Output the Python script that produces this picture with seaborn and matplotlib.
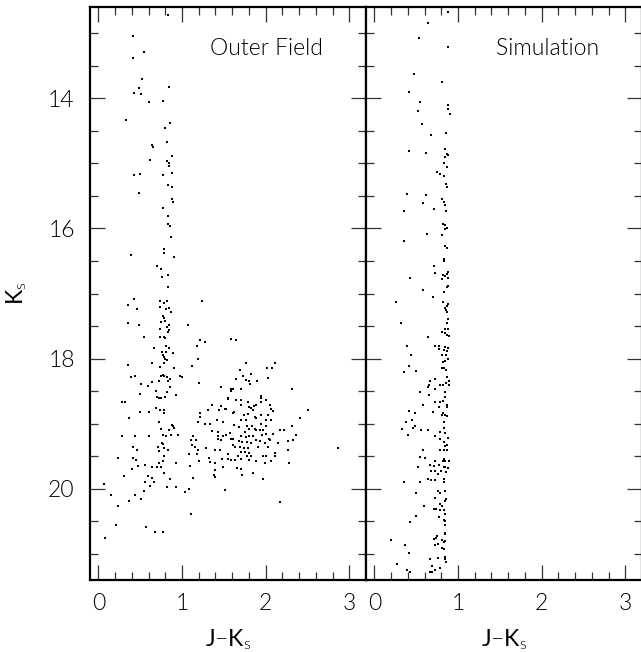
#!/usr/bin/env python3

"""Colour-magnitude diagrams: outer field vs simulation."""

import seaborn as sns
import pandas as pd
import matplotlib.pyplot as plt
from matplotlib.ticker import MultipleLocator

# DATA
field_jk = [0.83, 0.41, 0.54, 0.41, 0.52, 0.49, 0.85, 0.43, 0.51, 0.60, 0.77, 0.33, 0.86, 0.80,
            0.82, 0.64, 0.65, 0.62, 0.88, 0.82, 0.85, 0.84, 0.43, 0.50, 0.77, 0.88, 0.83, 0.88,
            0.49, 0.88, 0.89, 0.77, 0.83, 0.83, 0.86, 0.87, 0.78, 0.79, 0.39, 0.90, 0.70, 0.75,
            0.76, 0.83, 0.83, 0.43,
            0.74, 0.78, 0.82, 0.36, 1.24, 0.74, 0.81, 0.84, 0.46, 0.87, 0.77, 0.78, 0.75, 0.80,
            0.36, 0.49, 0.85, 1.07, 0.82, 0.74, 0.85, 0.83, 0.54, 0.74, 0.79, 0.80, 1.22, 1.28,
            0.81, 0.84, 1.18, 0.66, 0.76, 0.81, 0.89, 0.77, 0.78, 0.80, 0.82, 1.19, 0.64, 0.78,
            0.36, 0.74, 0.90, 1.12, 0.44, 0.39, 0.75, 0.77, 0.78, 0.82, 0.98, 1.00, 0.86, 0.83,
            0.72, 0.64, 1.20, 0.51, 0.59, 0.86, 1.47, 0.69, 0.82, 0.93, 0.50, 0.70, 0.72, 0.75,
            0.80, 1.55, 0.28, 0.32, 1.36, 1.47, 1.53, 0.69, 0.74, 0.78, 1.31, 0.50, 0.60, 0.78,
            1.21, 0.37, 1.22, 1.42, 0.72, 1.19, 1.28, 1.33, 1.49, 0.88, 0.89, 0.91, 0.75, 0.85,
            1.36, 0.28, 0.44, 0.60, 0.77, 0.81, 0.87, 0.95, 1.13, 1.43, 1.49, 1.53,
            0.76, 0.77, 0.71, 0.78, 0.83, 0.41, 0.46, 0.72, 1.11, 1.17, 1.12, 1.16, 1.19, 1.29,
            1.40, 1.45, 0.79, 1.08, 1.18, 0.23, 0.42, 1.32, 1.48, 1.55, 1.55, 0.45, 0.77, 1.20,
            1.33, 1.40, 0.73, 0.56, 0.47, 0.93, 0.64, 0.70, 0.75, 1.10, 1.40, 1.49, 0.40, 0.78,
            0.31, 0.59, 0.64, 0.86, 1.13, 1.38, 1.40, 0.56, 0.66, 0.07, 0.62, 0.82, 0.93, 1.08,
            1.03, 1.51, 0.54, 0.44, 0.15, 0.51, 0.37, 0.23, 1.11, 0.21, 0.57, 0.68, 0.77, 0.08,
            2.17, 2.86, 2.51, 2.41, 2.36, 2.33, 2.28, 2.27, 2.27, 2.31, 2.32, 2.15, 2.22, 2.17,
            2.11, 2.11, 2.07, 1.97,
            1.58, 1.65, 1.76, 2.11, 2.08, 2.02, 1.69, 1.73, 1.82, 2.03, 1.64, 1.76, 1.90, 1.80,
            1.81, 1.47, 1.58, 1.61, 1.59, 1.70, 1.95, 1.95, 2.00, 1.55, 1.65, 1.70, 1.95, 1.79,
            2.05, 1.70, 1.88, 1.86, 1.80, 1.83, 1.85, 2.07, 2.09, 1.52, 1.44, 1.62, 1.61, 1.79,
            1.95, 2.03, 1.74, 1.87, 1.88, 1.70, 1.77, 2.00, 2.06, 1.62, 1.78, 1.84, 1.95, 2.00,
            1.87, 1.89, 1.93, 1.97, 1.80, 1.68, 1.43, 1.75, 1.57, 2.01, 2.09, 1.71, 1.76, 1.80,
            1.85, 1.96, 1.43, 1.47, 1.58, 1.61, 1.89, 1.93, 2.04, 2.05, 1.68, 1.72, 1.78, 1.82,
            1.99, 1.61, 1.63, 1.69, 1.74, 1.79, 1.91, 2.03, 1.55, 1.70, 1.75, 1.80, 1.67, 1.78,
            1.82, 1.97, 2.01, 1.58, 1.63, 1.71, 1.80, 1.88, 1.99, 1.66, 1.70, 1.85, 1.72]
field_k = [12.73, 13.05, 13.29, 13.39, 13.70, 13.84, 13.83, 13.92, 13.94, 14.06, 14.04, 14.33,
           14.38, 14.46, 14.67, 14.72, 14.75, 14.95, 14.89, 14.97, 15.00, 15.04, 15.18, 15.17,
           15.18, 15.15, 15.33, 15.37, 15.46, 15.55, 15.60, 15.68, 15.81, 15.93, 15.97, 16.13,
           16.31, 16.38, 16.41, 16.44, 16.57, 16.63, 16.74, 16.72, 16.90, 17.08,
           17.11, 17.15, 17.12, 17.17, 17.12, 17.20, 17.24, 17.23, 17.24, 17.28, 17.35, 17.37,
           17.44, 17.43, 17.46, 17.48, 17.49, 17.49, 17.52, 17.54, 17.56, 17.59, 17.67, 17.67,
           17.67, 17.69, 17.71, 17.75, 17.81, 17.83, 17.80, 17.84, 17.90, 17.90, 17.92, 17.95,
           17.97, 18.00, 18.02, 18.00, 18.06, 18.07, 18.10, 18.13, 18.15, 18.12, 18.26, 18.28,
           18.27, 18.25, 18.26, 18.29, 18.26, 18.28, 18.32, 18.35, 18.35, 18.36, 18.37, 18.39,
           18.42, 18.44, 18.43, 18.49, 18.52, 18.56, 18.54, 18.59, 18.60, 18.61, 18.59, 18.61,
           18.66, 18.66, 18.71, 18.73, 18.77, 18.76, 18.79, 18.79, 18.79, 18.82, 18.82, 18.84,
           18.83, 18.91, 18.89, 18.95, 18.98, 18.98, 19.00, 19.00, 18.98, 19.02, 19.03, 19.06,
           19.08, 19.10, 19.11, 19.19, 19.19, 19.19, 19.18, 19.19, 19.17, 19.17, 19.19, 19.19,
           19.19, 19.17,
           19.29, 19.31, 19.36, 19.38, 19.41, 19.36, 19.41, 19.42, 19.25, 19.25, 19.32, 19.35,
           19.40, 19.38, 19.41, 19.40, 19.49, 19.47, 19.47, 19.52, 19.52, 19.52, 19.54, 19.54,
           19.47, 19.56, 19.57, 19.58, 19.59, 19.61, 19.60, 19.63, 19.65, 19.61, 19.67, 19.67,
           19.67, 19.65, 19.71, 19.67, 19.69, 19.76, 19.81, 19.81, 19.83, 19.85, 19.83, 19.79,
           19.82, 19.89, 19.90, 19.93, 19.96, 19.97, 19.97, 20.00, 20.05, 20.02, 20.04, 20.10,
           20.10, 20.15, 20.19, 20.26, 20.39, 20.55, 20.59, 20.66, 20.67, 20.76,
           20.20, 19.37, 18.79, 18.91, 19.17, 19.25, 19.60, 19.40, 19.27, 19.03, 18.46, 19.29,
           19.09, 19.09, 19.45, 19.49, 19.57, 19.85,
           17.70, 17.71, 18.07, 18.07, 18.14, 18.15, 18.17, 18.26, 18.24, 18.30, 18.31, 18.33,
           18.34, 18.35, 18.39, 18.43, 18.46, 18.46, 18.49, 18.46, 18.57, 18.60, 18.63, 18.62,
           18.64, 18.64, 18.66, 18.67, 18.72, 18.72, 18.71, 18.73, 18.74, 18.76, 18.79, 18.78,
           18.81, 18.78, 18.79, 18.82, 18.84, 18.85, 18.86, 18.87, 18.86, 18.89, 18.91, 18.94,
           18.94, 18.94, 18.94, 19.02, 19.03, 19.04, 19.00, 19.04, 19.08, 19.09, 19.09, 19.09,
           19.08, 19.05, 19.12, 19.12, 19.14, 19.16, 19.16, 19.19, 19.20, 19.19, 19.19, 19.18,
           19.24, 19.25, 19.24, 19.24, 19.25, 19.26, 19.23, 19.25, 19.27, 19.28, 19.28, 19.30,
           19.30, 19.33, 19.35, 19.36, 19.38, 19.37, 19.36, 19.35, 19.46, 19.43, 19.43, 19.45,
           19.49, 19.50, 19.49, 19.50, 19.50, 19.55, 19.55, 19.54, 19.56, 19.58, 19.61, 19.68,
           19.70, 19.76, 19.78]

sim_jk = [0.88, 0.64, 0.53, 0.88, 0.47, 0.81, 0.41, 0.54, 0.88, 0.88, 0.52, 0.90, 0.57, 0.68,
          0.86, 0.41, 0.62, 0.85, 0.87, 0.88, 0.85, 0.83, 0.87, 0.75, 0.78, 0.83, 0.86, 0.87,
          0.39, 0.62, 0.81, 0.83, 0.58, 0.84, 0.71, 0.86, 0.35, 0.82, 0.85, 0.87, 0.85, 0.63,
          0.81, 0.35, 0.84, 0.87, 0.83, 0.83, 0.71, 0.88, 0.87, 0.85, 0.72, 0.82, 0.88, 0.43,
          0.81, 0.88, 0.87, 0.58, 0.83, 0.70,
          0.26, 0.82, 0.88, 0.87, 0.85, 0.86, 0.87, 0.88, 0.87, 0.32, 0.84, 0.88, 0.81, 0.85,
          0.87, 0.89, 0.64, 0.73, 0.77, 0.85, 0.88, 0.39, 0.77, 0.83, 0.87, 0.44, 0.81, 0.86,
          0.88, 0.85, 0.82, 0.41, 0.81, 0.83, 0.86, 0.50, 0.36, 0.87, 0.73, 0.89, 0.67, 0.86,
          0.89, 0.82, 0.65, 0.64, 0.78, 0.72, 0.85, 0.55, 0.65, 0.85, 0.82, 0.72, 0.78, 0.58,
          0.87, 0.87, 0.77, 0.41, 0.49, 0.70, 0.82, 0.84, 0.87, 0.81, 0.45, 0.38, 0.83, 0.33,
          0.46, 0.49, 0.56, 0.64, 0.83, 0.78, 0.85, 0.40, 0.72, 0.78, 0.88,
          0.83, 0.87, 0.85, 0.58, 0.78, 0.83, 0.87, 0.55, 0.60, 0.83, 0.72, 0.82, 0.85, 0.89,
          0.66, 0.77, 0.71, 0.83, 0.85, 0.52, 0.88, 0.68, 0.73, 0.80, 0.86, 0.76, 0.64, 0.68,
          0.72, 0.83, 0.83, 0.36, 0.54, 0.76, 0.78, 0.85, 0.50, 0.72, 0.86, 0.85, 0.79, 0.81,
          0.59, 0.71, 0.74, 0.78, 0.83, 0.85, 0.50, 0.77, 0.43, 0.83, 0.85, 0.84, 0.85, 0.84,
          0.75, 0.74, 0.71, 0.81, 0.85, 0.83, 0.20, 0.76, 0.73, 0.37, 0.81, 0.83, 0.41, 0.76,
          0.85, 0.84, 0.67, 0.86, 0.27, 0.69, 0.78, 0.73, 0.39, 0.43, 0.67, 0.69]
sim_k = [12.68, 12.85, 13.08, 13.21, 13.63, 13.75, 13.91, 14.06, 14.10, 14.17, 14.20, 14.25,
         14.39, 14.57, 14.53, 14.81, 14.84, 14.78, 14.85, 14.88, 14.90, 14.99, 15.06, 15.14,
         15.17, 15.19, 15.32, 15.36, 15.47, 15.48, 15.55, 15.60, 15.61, 15.64, 15.70, 15.73,
         15.73, 15.93, 15.95, 15.99, 16.01, 16.09, 16.10, 16.19, 16.27, 16.30, 16.47, 16.50,
         16.57, 16.67, 16.70, 16.73, 16.69, 16.72, 16.76, 16.76, 16.78, 16.88, 16.90, 16.94,
         16.98, 17.05,
         17.13, 17.13, 17.16, 17.19, 17.22, 17.25, 17.29, 17.39, 17.45, 17.46, 17.54, 17.55,
         17.59, 17.61, 17.63, 17.65, 17.67, 17.80, 17.80, 17.82, 17.84, 17.81, 17.85, 17.87,
         17.89, 17.94, 17.94, 17.94, 18.00, 18.03, 18.05, 18.12, 18.14, 18.15, 18.18, 18.19,
         18.21, 18.29, 18.31, 18.34, 18.34, 18.37, 18.40, 18.40, 18.40, 18.43, 18.41, 18.47,
         18.51, 18.51, 18.56, 18.59, 18.65, 18.67, 18.67, 18.71, 18.71, 18.74, 18.75, 18.80,
         18.83, 18.82, 18.84, 18.86, 18.88, 18.87, 18.94, 18.97, 18.98, 19.08, 19.06, 19.04,
         19.09, 19.09, 19.06, 19.12, 19.15, 19.18, 19.19, 19.24, 19.22,
         19.28, 19.33, 19.34, 19.41, 19.40, 19.40, 19.41, 19.51, 19.52, 19.54, 19.58, 19.58,
         19.58, 19.58, 19.63, 19.63, 19.65, 19.66, 19.67, 19.66, 19.68, 19.72, 19.73, 19.72,
         19.74, 19.77, 19.85, 19.86, 19.87, 19.85, 19.90, 19.89, 19.89, 20.04, 20.06, 20.03,
         20.07, 20.14, 20.16, 20.19, 20.24, 20.26, 20.27, 20.31, 20.31, 20.33, 20.33, 20.38,
         20.42, 20.44, 20.51, 20.48, 20.50, 20.56, 20.68, 20.70, 20.73, 20.75, 20.77, 20.78,
         20.80, 20.82, 20.79, 20.85, 20.86, 20.87, 20.91, 20.93, 20.98, 21.06, 21.05, 21.08,
         21.07, 21.12, 21.15, 21.19, 21.21, 21.24, 21.25, 21.27, 21.27, 21.28]

panel_titles = ["Outer Field", "Simulation"]
x_ticks = [0, 1, 2, 3]
y_ticks = [14, 16, 18, 20]

# SET BASIC THEME PARAMETERS
sns.set_theme(style="ticks")
plt.rcParams['font.family'] = ['Lato', 'DejaVu Sans']
plt.rcParams['font.weight'] = 300
plt.rcParams['text.color'] = 'black'
plt.rcParams['axes.labelcolor'] = 'black'
plt.rcParams['xtick.labelcolor'] = 'black'
plt.rcParams['ytick.labelcolor'] = 'black'
plt.rcParams['mathtext.fontset'] = 'custom'
plt.rcParams['mathtext.rm'] = 'Lato:weight=300'

field = pd.DataFrame({"jk": field_jk, "k": field_k})
sim = pd.DataFrame({"jk": sim_jk, "k": sim_k})

fig = plt.figure(figsize=(6.41, 6.52), dpi=100)
bottom, height = 72 / 652, 573 / 652
ax1 = fig.add_axes([90 / 641, bottom, 276 / 641, height])
ax2 = fig.add_axes([366 / 641, bottom, 276 / 641, height])

for ax, data, title in [(ax1, field, panel_titles[0]), (ax2, sim, panel_titles[1])]:
    sns.scatterplot(data=data, x="jk", y="k", ax=ax, color="black", s=1.6,
                    marker="s", linewidth=0)
    ax.set_xlim(-0.1, 3.2)
    ax.set_ylim(21.4, 12.6)
    ax.xaxis.set_major_locator(MultipleLocator(1))
    ax.xaxis.set_minor_locator(MultipleLocator(0.2))
    ax.yaxis.set_major_locator(MultipleLocator(2))
    ax.yaxis.set_minor_locator(MultipleLocator(0.5))
    ax.tick_params(which="both", direction="in", top=True, right=True,
                   width=0.9, color="#333333", labelsize=16.5, labelcolor="black")
    ax.tick_params(which="major", length=11)
    ax.tick_params(which="minor", length=5.5)
    ax.tick_params(axis="x", pad=9)
    ax.tick_params(axis="y", pad=11)
    for sp in ax.spines.values():
        sp.set_linewidth(1.6)
        sp.set_color("black")
    ax.set_xticks(x_ticks)
    ax.set_xlabel(r"J$-$K$_{\rm s}$", fontsize=16.5, labelpad=10, color="black")
    ax.set_ylabel("")
    ax.text(0.845, 0.928, title, transform=ax.transAxes, ha="right", va="center",
            fontsize=16.5, color="black")

ax1.set_yticks(y_ticks)
ax1.set_ylabel(r"K$_{\rm s}$", fontsize=16.5, labelpad=14, color="black")
ax2.tick_params(axis="y", labelleft=False)

fig.savefig("out.png", dpi=100)
